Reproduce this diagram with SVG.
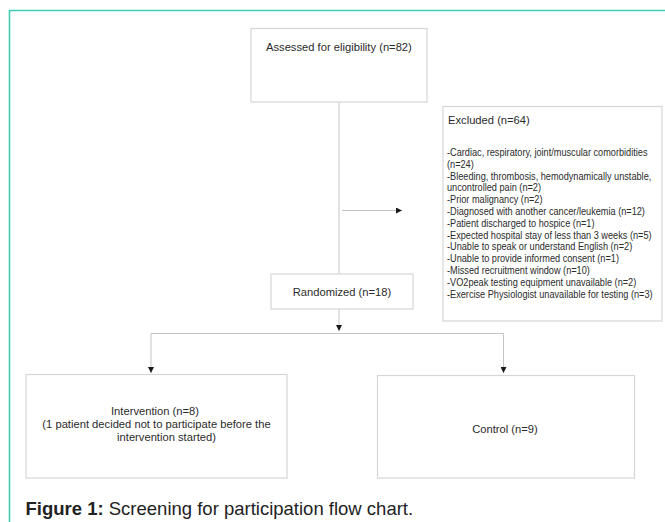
<svg xmlns="http://www.w3.org/2000/svg" width="665" height="522" viewBox="0 0 665 522">
<style>
.box{fill:#fff;stroke:#d6d6d6;stroke-width:1.2}
.t{font-family:"Liberation Sans",Arial,sans-serif;font-size:11.2px;fill:#2b2b2b}
.s{font-family:"Liberation Sans",Arial,sans-serif;font-size:10.2px;fill:#2b2b2b}
.ln{fill:none;stroke:#c4c4c4;stroke-width:1}
.cap{font-family:"Liberation Sans",Arial,sans-serif;font-size:18.5px;fill:#222}
</style>
<defs>
<marker id="ah" viewBox="0 0 10 10" refX="10" refY="5" markerWidth="6" markerHeight="6" markerUnits="userSpaceOnUse" orient="auto">
<path d="M0,0 L10,5 L0,10 z" fill="#1a1a1a"/>
</marker>
</defs>
<rect width="665" height="522" fill="#fff"/>
<path d="M9.5,522 V10.5 H665" fill="none" stroke="#3fcdb3" stroke-width="1.6"/>
<g id="connectors">
<path class="ln" d="M339,102 V274"/>
<path class="ln" d="M342,210.5 H402" marker-end="url(#ah)"/>
<path class="ln" d="M339,309 V331" marker-end="url(#ah)"/>
<path class="ln" d="M151,333.5 H503.5"/>
<path class="ln" d="M151,333.5 V373" marker-end="url(#ah)"/>
<path class="ln" d="M503.5,333.5 V373" marker-end="url(#ah)"/>
</g>
<g id="assessed">
<rect class="box" x="251" y="28.5" width="176" height="73.5"/>
<text class="t" x="266" y="50.5">Assessed for eligibility (n=82)</text>
</g>
<g id="excluded">
<rect class="box" x="443" y="106.5" width="219" height="214.5"/>
<text class="t" x="448" y="124">Excluded (n=64)</text>
<g transform="translate(447,0) scale(0.9,1)">
<text class="s" x="0" y="156">-Cardiac, respiratory, joint/muscular comorbidities</text>
<text class="s" x="0" y="167.8">(n=24)</text>
<text class="s" x="0" y="179.6">-Bleeding, thrombosis, hemodynamically unstable,</text>
<text class="s" x="0" y="191.4">uncontrolled pain (n=2)</text>
<text class="s" x="0" y="203.2">-Prior malignancy (n=2)</text>
<text class="s" x="0" y="215">-Diagnosed with another cancer/leukemia (n=12)</text>
<text class="s" x="0" y="226.8">-Patient discharged to hospice (n=1)</text>
<text class="s" x="0" y="238.6">-Expected hospital stay of less than 3 weeks (n=5)</text>
<text class="s" x="0" y="250.4">-Unable to speak or understand English (n=2)</text>
<text class="s" x="0" y="262.2">-Unable to provide informed consent (n=1)</text>
<text class="s" x="0" y="274">-Missed recruitment window (n=10)</text>
<text class="s" x="0" y="285.8">-VO2peak testing equipment unavailable (n=2)</text>
<text class="s" x="0" y="297.6">-Exercise Physiologist unavailable for testing (n=3)</text>
</g>
</g>
<g id="randomized">
<rect class="box" x="271" y="274" width="142" height="35"/>
<text class="t" x="342" y="295.5" text-anchor="middle">Randomized (n=18)</text>
</g>
<g id="intervention">
<rect class="box" x="26" y="374.5" width="261" height="103.5"/>
<text class="t" x="155" y="414.5" text-anchor="middle">Intervention (n=8)</text>
<text class="t" x="156.5" y="427.5" text-anchor="middle">(1 patient decided not to participate before the</text>
<text class="t" x="166.5" y="440.5" text-anchor="middle">intervention started)</text>
</g>
<g id="control">
<rect class="box" x="377.5" y="375.5" width="257" height="102.5"/>
<text class="t" x="505" y="433" text-anchor="middle">Control (n=9)</text>
</g>
<text class="cap" x="25.5" y="514.5"><tspan font-weight="bold">Figure 1:</tspan> Screening for participation flow chart.</text>
</svg>
